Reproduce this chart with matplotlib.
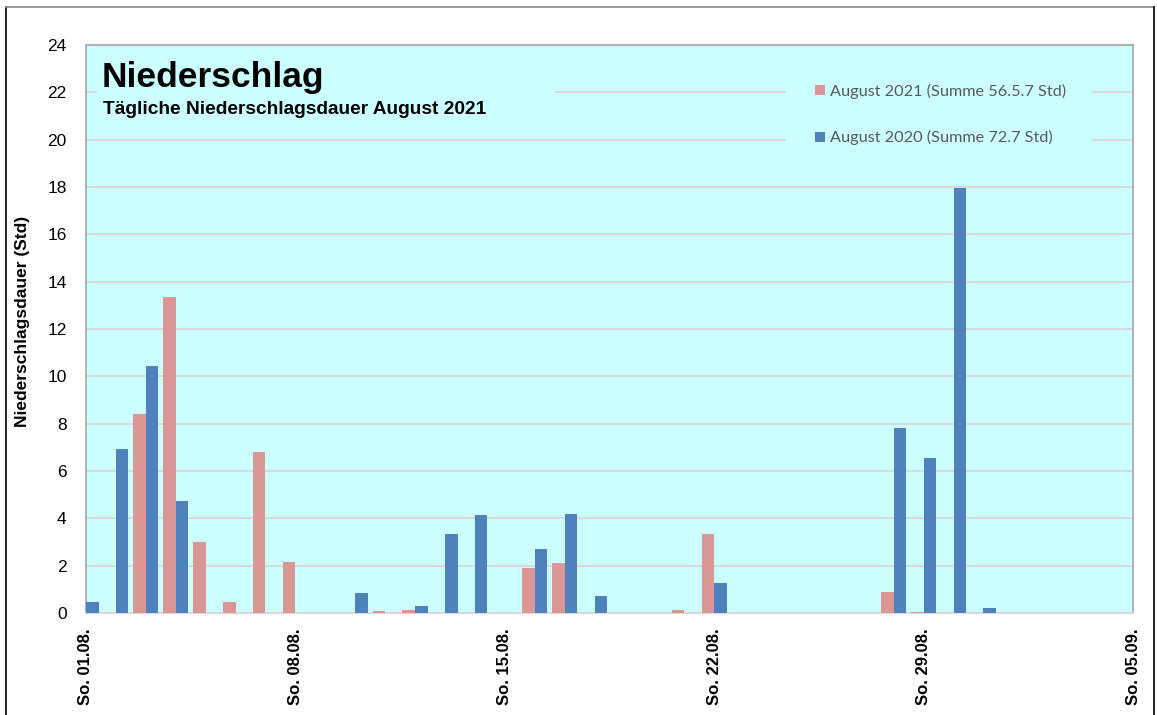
import matplotlib
matplotlib.use("Agg")
import matplotlib.pyplot as plt
from matplotlib.patches import Rectangle, Patch
from matplotlib.lines import Line2D

# ---- data ----
days = list(range(1, 32))
values_2021 = [0, 0, 8.41, 13.35, 3.0, 0.45, 6.8, 2.15, 0, 0,
               0.1, 0.13, 0, 0, 0, 1.9, 2.13, 0, 0, 0,
               0.14, 3.34, 0, 0, 0, 0, 0, 0.9, 0.06, 0, 0]
values_2020 = [0.45, 6.92, 10.43, 4.72, 0, 0, 0, 0, 0, 0.83,
               0, 0.31, 3.34, 4.14, 0, 2.7, 4.18, 0.73, 0, 0,
               0, 1.27, 0, 0, 0, 0, 0, 7.8, 6.54, 17.94, 0.21]
tick_days = [1, 8, 15, 22, 29, 36]
tick_labels = ["So. 01.08.", "So. 08.08.", "So. 15.08.", "So. 22.08.", "So. 29.08.", "So. 05.09."]
label_2021 = "August 2021 (Summe 56.5.7 Std)"
label_2020 = "August 2020 (Summe 72.7 Std)"
title = "Niederschlag"
subtitle = "Tägliche Niederschlagsdauer August 2021"
ylabel = "Niederschlagsdauer (Std)"

W, H = 1157, 715
BG = "#ccffff"
PINK = "#d99694"
BLUE = "#4f81bd"

plt.rcParams["font.family"] = ["Liberation Sans", "DejaVu Sans"]
fig = plt.figure(figsize=(W / 100, H / 100), dpi=100)

def fx(px):
    return px / W

def fy(py):
    return 1 - py / H

# outer frame
fig.add_artist(Line2D([fx(6), fx(6)], [fy(7), 0], color="black", lw=1.2))
fig.add_artist(Line2D([fx(6), fx(1154)], [fy(7), fy(7)], color="#888888", lw=1.2))
fig.add_artist(Line2D([fx(1154), fx(1154)], [fy(7), 0], color="black", lw=1.2))

L, R, T, B = 86, 1133, 45, 613
ax = fig.add_axes([fx(L), fy(B), fx(R) - fx(L), (B - T) / H])
ax.set_facecolor(BG)

bw = 0.42
ax.bar(days, values_2021, width=-bw, align="edge", color=PINK, linewidth=0, zorder=3)
ax.bar(days, values_2020, width=bw, align="edge", color=BLUE, linewidth=0, zorder=3)

ax.set_xlim(1, 36)
ax.set_ylim(0, 24)
ax.set_yticks(range(0, 25, 2))
ax.set_xticks(tick_days)
ax.set_xticklabels(tick_labels, rotation=90, fontsize=12, fontweight="bold")
ax.tick_params(axis="x", length=0, pad=11)
ax.tick_params(axis="y", length=0, pad=14, labelsize=12.5)
ax.grid(axis="y", color="#d9d9d9", lw=1.5, zorder=1)
ax.set_axisbelow(True)
for s in ["top", "right", "left"]:
    ax.spines[s].set_color("#a6a6a6")
    ax.spines[s].set_linewidth(1.2)
ax.spines["bottom"].set_color("#d9d9d9")
ax.spines["bottom"].set_linewidth(1.5)

ax.set_ylabel(ylabel, fontsize=12.5, fontweight="bold")
ax.yaxis.set_label_coords(-(86 - 30) / (R - L), (613 - 321.5) / (613 - 45))

# title box (hides gridlines)
fig.add_artist(Rectangle((fx(97), fy(128)), fx(555) - fx(97), (128 - 55) / H,
                         facecolor=BG, edgecolor="none", zorder=2))
fig.text(fx(102), fy(78), title, fontsize=25.5, fontweight="bold", va="center", ha="left", zorder=5)
fig.text(fx(103), fy(109), subtitle, fontsize=13.8, fontweight="bold", va="center", ha="left", zorder=5)

# legend
fig.add_artist(Rectangle((fx(786), fy(162)), fx(1092) - fx(786), (162 - 66) / H,
                         facecolor=BG, edgecolor="none", zorder=2))
handles = [Patch(facecolor=PINK, edgecolor="none"), Patch(facecolor=BLUE, edgecolor="none")]
leg = fig.legend(handles, [label_2021, label_2020], loc="upper left",
                 bbox_to_anchor=(fx(815), fy(84)), frameon=False,
                 prop={"family": ["Lato", "DejaVu Sans"], "size": 11.7},
                 handlelength=0.6, handleheight=0.6, handletextpad=0.3,
                 labelspacing=1.93, borderaxespad=0, borderpad=0)
for t in leg.get_texts():
    t.set_color("#595959")

fig.savefig("out.png", dpi=100, facecolor="white")
